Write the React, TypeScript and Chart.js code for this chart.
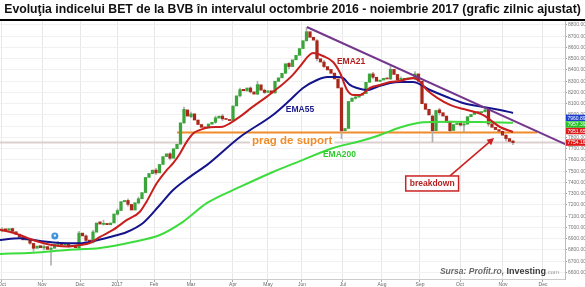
import React, { useEffect, useRef } from "react";
import { Chart, registerables } from "chart.js";

Chart.register(...registerables);

const TITLE =
  "Evoluţia indicelui BET de la BVB în intervalul octombrie 2016 - noiembrie 2017 (grafic zilnic ajustat)";

// x axis: one slot = two trading sessions
const X_MIN = -0.571;
const X_MAX = 160.86;
const Y_MIN = 6542;
const Y_MAX = 8844;

const monthSlots = [0, 11.43, 22.29, 32.86, 43.43, 54, 66, 76, 85.71, 97.43, 108.57, 119.43, 130.86, 143.14, 154.57];
const monthLabels = ["Oct", "Nov", "Dec", "2017", "Feb", "Mar", "Apr", "May", "Jun", "Jul", "Aug", "Sep", "Oct", "Nov", "Dec"];
const yTicks = [
  6600, 6700, 6800, 6900, 7000, 7100, 7200, 7300, 7400, 7500, 7600, 7700,
  7800, 7900, 8000, 8100, 8200, 8300, 8400, 8500, 8600, 8700, 8800,
];

const opens = [
  6970, 6988, 6975, 6990, 6962, 6940, 6912, 6888, 6898, 6858,
  6815, 6838, 6818, 6830, 6805, 6815, 6848, 6860, 6843, 6855,
  6833, 6842, 6818, 6950, 6925, 6888, 6868, 6958, 7050, 7028,
  7036, 7024, 7040, 7118, 7150, 7228, 7240, 7205, 7155, 7218,
  7255, 7310, 7445, 7478, 7510, 7485, 7560, 7630, 7655, 7615,
  7700, 7740, 7930, 8045, 7985, 8010, 7955, 7915, 7892, 7885,
  7918, 7935, 7972, 7990, 7968, 7960, 7950, 8080, 8170, 8228,
  8213, 8240, 8205, 8185, 8268, 8220, 8200, 8215, 8195, 8298,
  8330, 8370, 8458, 8430, 8490, 8530, 8590, 8660, 8740, 8690,
  8660, 8500, 8470, 8430, 8405, 8372, 8320, 8240, 7860, 7880,
  8120, 8148, 8158, 8175, 8190, 8290, 8365, 8335, 8298, 8310,
  8326, 8320, 8405, 8360, 8310, 8325, 8315, 8330, 8320, 8365,
  8300, 8100, 8050, 7990, 7860, 8045, 8020, 7990, 7935, 7862,
  7915, 7925, 7910, 7918, 7985, 8005, 8027, 8020, 8030, 8045,
  7922, 7890, 7870, 7855, 7820, 7790, 7768,
];

const closes = [
  6985, 6975, 6990, 6965, 6940, 6915, 6890, 6900, 6860, 6815,
  6835, 6820, 6830, 6805, 6815, 6850, 6860, 6845, 6855, 6835,
  6840, 6820, 6950, 6925, 6885, 6870, 6960, 7040, 7030, 7035,
  7025, 7040, 7120, 7150, 7230, 7240, 7205, 7155, 7220, 7255,
  7310, 7445, 7480, 7510, 7485, 7560, 7630, 7655, 7615, 7700,
  7740, 7930, 8050, 7990, 8010, 7955, 7915, 7890, 7885, 7920,
  7935, 7975, 7990, 7965, 7960, 7950, 8080, 8170, 8225, 8215,
  8240, 8205, 8185, 8270, 8220, 8200, 8215, 8195, 8300, 8330,
  8370, 8455, 8430, 8490, 8530, 8590, 8660, 8740, 8690, 8665,
  8500, 8470, 8430, 8400, 8370, 8320, 8240, 7860, 7880, 8120,
  8150, 8160, 8175, 8190, 8290, 8365, 8335, 8300, 8310, 8325,
  8320, 8405, 8360, 8310, 8325, 8315, 8330, 8320, 8365, 8300,
  8100, 8050, 8000, 7860, 8040, 8020, 7990, 7935, 7860, 7915,
  7925, 7910, 7920, 7985, 8005, 8025, 8020, 8030, 8045, 7920,
  7890, 7870, 7855, 7820, 7790, 7765, 7754.16,
];

// [slot, low, high]
const wicks: [number, number, number][] = [
  [0, 6960, 7000], [3, 6955, 6995], [8, 6850, 6905], [9, 6790, 6860], [12, 6800, 6845],
  [14, 6665, 6830], [16, 6840, 6875], [19, 6825, 6862], [22, 6815, 6965], [24, 6875, 6935],
  [26, 6860, 6975], [29, 7020, 7065], [33, 7110, 7165], [36, 7190, 7255], [39, 7210, 7270],
  [44, 7470, 7525], [48, 7600, 7665], [52, 7925, 8070], [54, 7975, 8025], [61, 7925, 7990],
  [63, 7950, 8005], [68, 8160, 8240], [71, 8195, 8250], [73, 8180, 8300], [75, 8190, 8230],
  [82, 8410, 8465], [87, 8655, 8775], [90, 8480, 8670], [92, 8420, 8485], [97, 7790, 8245],
  [101, 8140, 8175], [106, 8320, 8380], [111, 8315, 8445], [114, 8300, 8340], [118, 8315, 8385],
  [123, 7760, 8000], [125, 8000, 8060], [128, 7850, 7945], [131, 7900, 7935], [132, 7850, 7930],
  [138, 8025, 8050], [139, 7900, 8050], [144, 7770, 7825], [146, 7735, 7775],
];

// [slot, value]
const ema21: [number, number][] = [
  [-0.6, 6980], [2.3, 6960], [5.1, 6933], [8, 6898], [11.7, 6862], [15.1, 6840], [18.6, 6830],
  [22.3, 6844], [25.1, 6862], [28, 6916], [31.7, 6978], [35.7, 7067], [39.4, 7140], [41.3, 7229],
  [44.2, 7393], [47.1, 7511], [48.9, 7571], [50.9, 7660], [52.8, 7763], [54.7, 7838], [56.6, 7867],
  [59.4, 7891], [63.1, 7896], [65.1, 7926], [68, 7985], [71.7, 8074], [75.7, 8163], [79.4, 8252],
  [83.1, 8356], [85.1, 8430], [88.9, 8551], [91.7, 8524], [94.6, 8471], [96.6, 8373], [98.6, 8222],
  [100.3, 8178], [102.3, 8178], [105.1, 8240], [108, 8267], [110.9, 8293], [113.7, 8302],
  [117.4, 8329], [118.9, 8311], [121.4, 8222], [128, 8089], [132.9, 8044], [137.4, 8000],
  [142.3, 7893], [146, 7849],
];

const ema55: [number, number][] = [
  [-0.6, 6889], [5.1, 6905], [10.9, 6880], [16.6, 6862], [22.3, 6860], [26, 6878], [30.9, 6916],
  [35.7, 6960], [40.3, 7040], [45.1, 7200], [48.9, 7333], [53.7, 7450], [58.6, 7556], [68, 7804],
  [77.4, 8000], [82.3, 8133], [86, 8240], [90, 8311], [92.9, 8338], [95.7, 8338], [97.4, 8329],
  [99.4, 8267], [101.4, 8240], [104.3, 8222], [107.1, 8249], [110.9, 8284], [113.7, 8293],
  [117.4, 8293], [122.3, 8222], [127.1, 8160], [131.7, 8107], [137.4, 8071], [142.3, 8045], [146, 8018],
];

const ema200: [number, number][] = [
  [-0.6, 6765], [8.9, 6775], [18.6, 6800], [28, 6818], [37.4, 6871], [45.1, 6933], [51.7, 7050],
  [58.6, 7218], [68, 7360], [77.4, 7493], [85.1, 7590], [94.6, 7707], [101.4, 7760], [108, 7822],
  [113.7, 7888], [120.3, 7935], [128, 7940], [136.6, 7938], [146, 7930],
];

const trendLine: [number, number][] = [[87.1, 8782], [160.9, 7740]];
const supportLine: [number, number][] = [[50, 7845], [152.9, 7845]];
const LAST_CLOSE = 7754.16;

const valueBoxes = [
  { text: "7960.89", value: 7960.89, color: "#1b3fcf" },
  { text: "7957.39", value: 7957.39, color: "#22c322" },
  { text: "7951.65", value: 7951.65, color: "#dd1a1a" },
];

const lineLabels = [
  { text: "EMA21", slot: 95.7, value: 8471, color: "#b41f1f" },
  { text: "EMA55", slot: 81.1, value: 8044, color: "#1c1c8c" },
  { text: "EMA200", slot: 91.7, value: 7644, color: "#2ecc2e" },
];
const supportLabel = { text: "prag de suport", slot: 71.4, value: 7769 };
const breakdownLabel = { text: "breakdown", slot: 122.9, value: 7391 };
const arrowFrom = { slot: 128, value: 7458 };
const arrowTo = { slot: 140.6, value: 7796 };
const eventIcon = { slot: 15.1, value: 6924 };

const UP = "#3ba53b";
const DOWN = "#a8281c";
const FONT = '"Liberation Sans", Arial, sans-serif';

const toPts = (arr: [number, number][]) => arr.map(([x, y]) => ({ x, y }));

const overlay = {
  id: "overlay",
  afterDatasetsDraw(chart: any) {
    const { ctx } = chart;
    const xs = chart.scales.x;
    const ys = chart.scales.y;
    const px = (s: number) => xs.getPixelForValue(s);
    const py = (v: number) => ys.getPixelForValue(v);
    ctx.save();
    ctx.textBaseline = "middle";
    ctx.textAlign = "left";
    ctx.font = `bold 8.5px ${FONT}`;
    for (const l of lineLabels) {
      ctx.fillStyle = l.color;
      ctx.fillText(l.text, px(l.slot), py(l.value));
    }
    // support label
    ctx.font = `bold 11.5px ${FONT}`;
    const sw = ctx.measureText(supportLabel.text).width;
    ctx.fillStyle = "#ffffff";
    ctx.fillRect(px(supportLabel.slot) - 2, py(supportLabel.value) - 6, sw + 4, 12);
    ctx.fillStyle = "#f08c2a";
    ctx.fillText(supportLabel.text, px(supportLabel.slot), py(supportLabel.value));

    // arrow
    const ax0 = px(arrowFrom.slot), ay0 = py(arrowFrom.value);
    const ax1 = px(arrowTo.slot), ay1 = py(arrowTo.value);
    ctx.strokeStyle = "#cc2222";
    ctx.fillStyle = "#cc2222";
    ctx.lineWidth = 1.6;
    const ang = Math.atan2(ay1 - ay0, ax1 - ax0);
    ctx.beginPath();
    ctx.moveTo(ax0, ay0);
    ctx.lineTo(ax1 - 4 * Math.cos(ang), ay1 - 4 * Math.sin(ang));
    ctx.stroke();
    ctx.beginPath();
    ctx.moveTo(ax1, ay1);
    ctx.lineTo(ax1 - 7 * Math.cos(ang) + 3.5 * Math.sin(ang), ay1 - 7 * Math.sin(ang) - 3.5 * Math.cos(ang));
    ctx.lineTo(ax1 - 7 * Math.cos(ang) - 3.5 * Math.sin(ang), ay1 - 7 * Math.sin(ang) + 3.5 * Math.cos(ang));
    ctx.closePath();
    ctx.fill();

    // breakdown box
    ctx.font = `bold 8.5px ${FONT}`;
    const bw = ctx.measureText(breakdownLabel.text).width;
    const bx = px(breakdownLabel.slot), by = py(breakdownLabel.value);
    ctx.fillStyle = "#ffffff";
    ctx.fillRect(bx - bw / 2 - 4, by - 7.5, bw + 8, 15);
    ctx.strokeStyle = "#cc2222";
    ctx.lineWidth = 1.5;
    ctx.strokeRect(bx - bw / 2 - 4, by - 7.5, bw + 8, 15);
    ctx.fillStyle = "#b41f1f";
    ctx.textAlign = "center";
    ctx.fillText(breakdownLabel.text, bx, by + 0.5);

    // event icon
    const ex = px(eventIcon.slot), ey = py(eventIcon.value);
    ctx.beginPath();
    ctx.arc(ex, ey, 3.5, 0, Math.PI * 2);
    ctx.fillStyle = "#3f93dc";
    ctx.fill();
    ctx.fillStyle = "#ffffff";
    ctx.fillRect(ex - 1, ey - 1.5, 2, 2);
    ctx.restore();
  },
  afterDraw(chart: any) {
    const { ctx, chartArea } = chart;
    const ys = chart.scales.y;
    ctx.save();
    // title
    let size = 14;
    ctx.font = `bold ${size}px ${FONT}`;
    const w = ctx.measureText(TITLE).width;
    size = Math.min(14, (size * 577) / w);
    ctx.font = `bold ${size}px ${FONT}`;
    ctx.fillStyle = "#111111";
    ctx.textAlign = "center";
    ctx.textBaseline = "middle";
    ctx.fillText(TITLE, 292.5, 10);
    ctx.fillStyle = "#000000";
    ctx.fillRect(0, 19, 585, 2);

    // value boxes on the right axis
    ctx.font = `5px ${FONT}`;
    ctx.textAlign = "left";
    let yy = ys.getPixelForValue(valueBoxes[0].value) - 1.5;
    for (const b of valueBoxes) {
      ctx.fillStyle = b.color;
      ctx.fillRect(chartArea.right + 1, yy - 3.2, 19, 6.4);
      ctx.fillStyle = "#ffffff";
      ctx.fillText(b.text, chartArea.right + 2.5, yy + 0.3);
      yy += 6.6;
    }
    const ly = ys.getPixelForValue(LAST_CLOSE);
    ctx.fillStyle = "#dd1a1a";
    ctx.fillRect(chartArea.right + 1, ly - 3.2, 19, 6.4);
    ctx.fillStyle = "#ffffff";
    ctx.fillText(LAST_CLOSE.toFixed(2), chartArea.right + 2.5, ly + 0.3);

    // source
    const base = chartArea.bottom - 5;
    const parts = [
      { t: "Sursa: Profit.ro, ", f: `italic bold 8.5px ${FONT}`, c: "#6a6a6a" },
      { t: "Investing", f: `bold 9px ${FONT}`, c: "#3a3a3a" },
      { t: ".com", f: `6px ${FONT}`, c: "#9a9a9a" },
    ];
    let total = 0;
    for (const p of parts) {
      ctx.font = p.f;
      total += ctx.measureText(p.t).width;
    }
    let sx = chartArea.right - 6 - total;
    ctx.textBaseline = "alphabetic";
    for (const p of parts) {
      ctx.font = p.f;
      ctx.fillStyle = p.c;
      ctx.fillText(p.t, sx, base);
      sx += ctx.measureText(p.t).width;
    }
    ctx.restore();
  },
};

export default function App() {
  const ref = useRef<HTMLCanvasElement | null>(null);
  useEffect(() => {
    if (!ref.current) return;
    const bodyColors = closes.map((c, i) => (c >= opens[i] ? UP : DOWN));
    const chart = new Chart(ref.current, {
      type: "bar",
      data: {
        datasets: [
          {
            type: "line",
            data: [{ x: X_MIN, y: LAST_CLOSE }, { x: X_MAX, y: LAST_CLOSE }],
            borderColor: "#dccfcf",
            borderWidth: 2,
            pointRadius: 0,
            order: 20,
          } as any,
          {
            type: "line",
            data: toPts(supportLine),
            borderColor: "#f08c2a",
            borderWidth: 2,
            pointRadius: 0,
            order: 19,
          } as any,
          {
            type: "bar",
            data: wicks.map(([s, lo, hi]) => ({ x: s, y: [lo, hi] })),
            backgroundColor: "#b0b0b0",
            barThickness: 1,
            grouped: false,
            order: 18,
          } as any,
          {
            type: "bar",
            data: closes.map((c, i) => ({ x: i, y: [opens[i], c] })),
            backgroundColor: bodyColors,
            borderWidth: 0,
            barThickness: 2.6,
            minBarLength: 1,
            grouped: false,
            order: 17,
          } as any,
          {
            type: "line",
            data: toPts(ema200),
            borderColor: "#3ddc3d",
            borderWidth: 2,
            pointRadius: 0,
            cubicInterpolationMode: "monotone",
            order: 4,
          } as any,
          {
            type: "line",
            data: toPts(ema55),
            borderColor: "#14148c",
            borderWidth: 2,
            pointRadius: 0,
            cubicInterpolationMode: "monotone",
            order: 3,
          } as any,
          {
            type: "line",
            data: toPts(ema21),
            borderColor: "#c81e1e",
            borderWidth: 2,
            pointRadius: 0,
            cubicInterpolationMode: "monotone",
            order: 2,
          } as any,
          {
            type: "line",
            data: toPts(trendLine),
            borderColor: "#74368c",
            borderWidth: 2,
            pointRadius: 0,
            order: 1,
          } as any,
        ],
      },
      options: {
        responsive: false,
        animation: false,
        devicePixelRatio: 1,
        events: [],
        layout: { padding: { top: 20, left: 0, right: 0, bottom: 0 } },
        plugins: { legend: { display: false }, tooltip: { enabled: false } },
        scales: {
          x: {
            type: "linear",
            min: X_MIN,
            max: X_MAX,
            offset: false,
            grid: { offset: false, color: "#e8e8e8", tickColor: "#aaaaaa", tickLength: 3 },
            border: { color: "#cccccc" },
            ticks: {
              autoSkip: false,
              maxRotation: 0,
              padding: 0,
              color: "#666666",
              font: { size: 5, family: FONT },
              callback: (_v: any, i: number) => monthLabels[i],
            },
            afterBuildTicks: (s: any) => {
              s.ticks = monthSlots.map((v) => ({ value: v }));
            },
            afterFit: (s: any) => {
              s.height = 8;
              s.paddingLeft = 0;
              s.paddingRight = 0;
            },
          },
          y: {
            type: "linear",
            position: "right",
            min: Y_MIN,
            max: Y_MAX,
            beginAtZero: false,
            grid: { color: "#f1f1f1", tickColor: "#999999", tickLength: 2 },
            border: { color: "#bbbbbb" },
            ticks: {
              autoSkip: false,
              padding: 1,
              color: "#777777",
              font: { size: 5, family: FONT },
              callback: (v: any) => Number(v).toFixed(2),
            },
            afterBuildTicks: (s: any) => {
              s.ticks = yTicks.map((v) => ({ value: v }));
            },
            afterFit: (s: any) => {
              s.width = 20;
              s.paddingTop = 0;
              s.paddingBottom = 0;
            },
          },
        },
      } as any,
      plugins: [overlay],
    });
    return () => chart.destroy();
  }, []);
  return (
    <div style={{ position: "absolute", left: 0, top: 0, width: 585, height: 287, background: "#fff" }}>
      <canvas ref={ref} width={585} height={287} style={{ width: 585, height: 287, display: "block" }} />
    </div>
  );
}
